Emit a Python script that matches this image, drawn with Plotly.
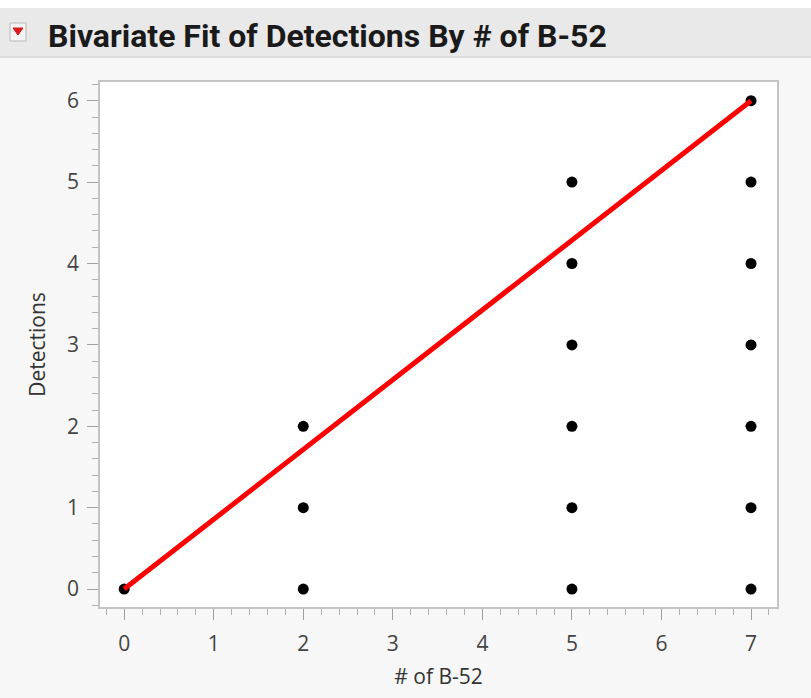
import plotly.graph_objects as go

# Data
b52 = [0, 2, 2, 2, 5, 5, 5, 5, 5, 5, 7, 7, 7, 7, 7, 7, 7]
detections = [0, 0, 1, 2, 0, 1, 2, 3, 4, 5, 0, 1, 2, 3, 4, 5, 6]
fit_x = [0, 7]
fit_y = [0, 6]
x_ticks = [0, 1, 2, 3, 4, 5, 6, 7]
y_ticks = [0, 1, 2, 3, 4, 5, 6]
title_text = "Bivariate Fit of Detections By # of B-52"

W, H = 811, 698
L, R, T, B = 100, 34, 82, 91
pw, ph = W - L - R, H - T - B

def px(xpix):
    return (xpix - L) / pw

def py(ypix):
    return (H - B - ypix) / ph

fig = go.Figure()
fig.add_trace(go.Scatter(x=b52, y=detections, mode="markers",
                         marker=dict(color="black", size=11), hoverinfo="x+y",
                         showlegend=False))
fig.add_trace(go.Scatter(x=fit_x, y=fit_y, mode="lines",
                         line=dict(color="#ff0000", width=5), showlegend=False))

axis_common = dict(
    showline=True, linecolor="#c4c4c4", linewidth=1.5, mirror=True,
    ticks="outside", ticklen=11, tickwidth=1.2, tickcolor="#a0a0a0",
    showgrid=False, zeroline=False,
    tickfont=dict(family="Open Sans", size=21, color="#444444"),
    minor=dict(ticks="outside", ticklen=6, tickwidth=1, tickcolor="#b0b0b0", dtick=0.2, showgrid=False),
)

fig.update_layout(
    width=W, height=H,
    margin=dict(l=L, r=R, t=T, b=B),
    paper_bgcolor="#f7f7f7",
    plot_bgcolor="white",
    xaxis=dict(range=[-0.27, 7.29], tickvals=x_ticks, ticklabelstandoff=6, **axis_common,
               title=dict(text="# of B-52", standoff=13,
                          font=dict(family="Open Sans", size=21, color="#333333"))),
    yaxis=dict(range=[-0.22, 6.23], tickvals=y_ticks, ticklabelstandoff=4, **axis_common,
               title=dict(text="Detections", standoff=16,
                          font=dict(family="Open Sans", size=21, color="#333333"))),
    shapes=[
        dict(type="rect", xref="paper", yref="paper", x0=px(0), x1=px(W), y0=py(8), y1=py(0),
             fillcolor="#ffffff", line=dict(width=0), layer="below"),
        dict(type="rect", xref="paper", yref="paper", x0=px(0), x1=px(W), y0=py(57), y1=py(8),
             fillcolor="#e9e9e9", line=dict(width=0), layer="below"),
        dict(type="line", xref="paper", yref="paper", x0=px(0), x1=px(W), y0=py(57), y1=py(57),
             line=dict(color="#d6d6d6", width=1.5), layer="below"),
        dict(type="rect", xref="paper", yref="paper", x0=px(10), x1=px(26), y0=py(41), y1=py(23),
             fillcolor="#f4f4f4", line=dict(color="#b8b8b8", width=1), layer="above"),
        dict(type="path", xref="paper", yref="paper",
             path=f"M {px(13)},{py(28)} L {px(23)},{py(28)} L {px(18)},{py(35)} Z",
             fillcolor="#d91a1a", line=dict(color="#d91a1a", width=1), layer="above"),
    ],
    annotations=[
        dict(text=f"<b>{title_text}</b>", xref="paper", yref="paper",
             x=px(46), y=py(36), xanchor="left", yanchor="middle", showarrow=False,
             font=dict(family="Roboto", size=32, color="#1a1a1a")),
    ],
)

fig.write_html("out.html")
